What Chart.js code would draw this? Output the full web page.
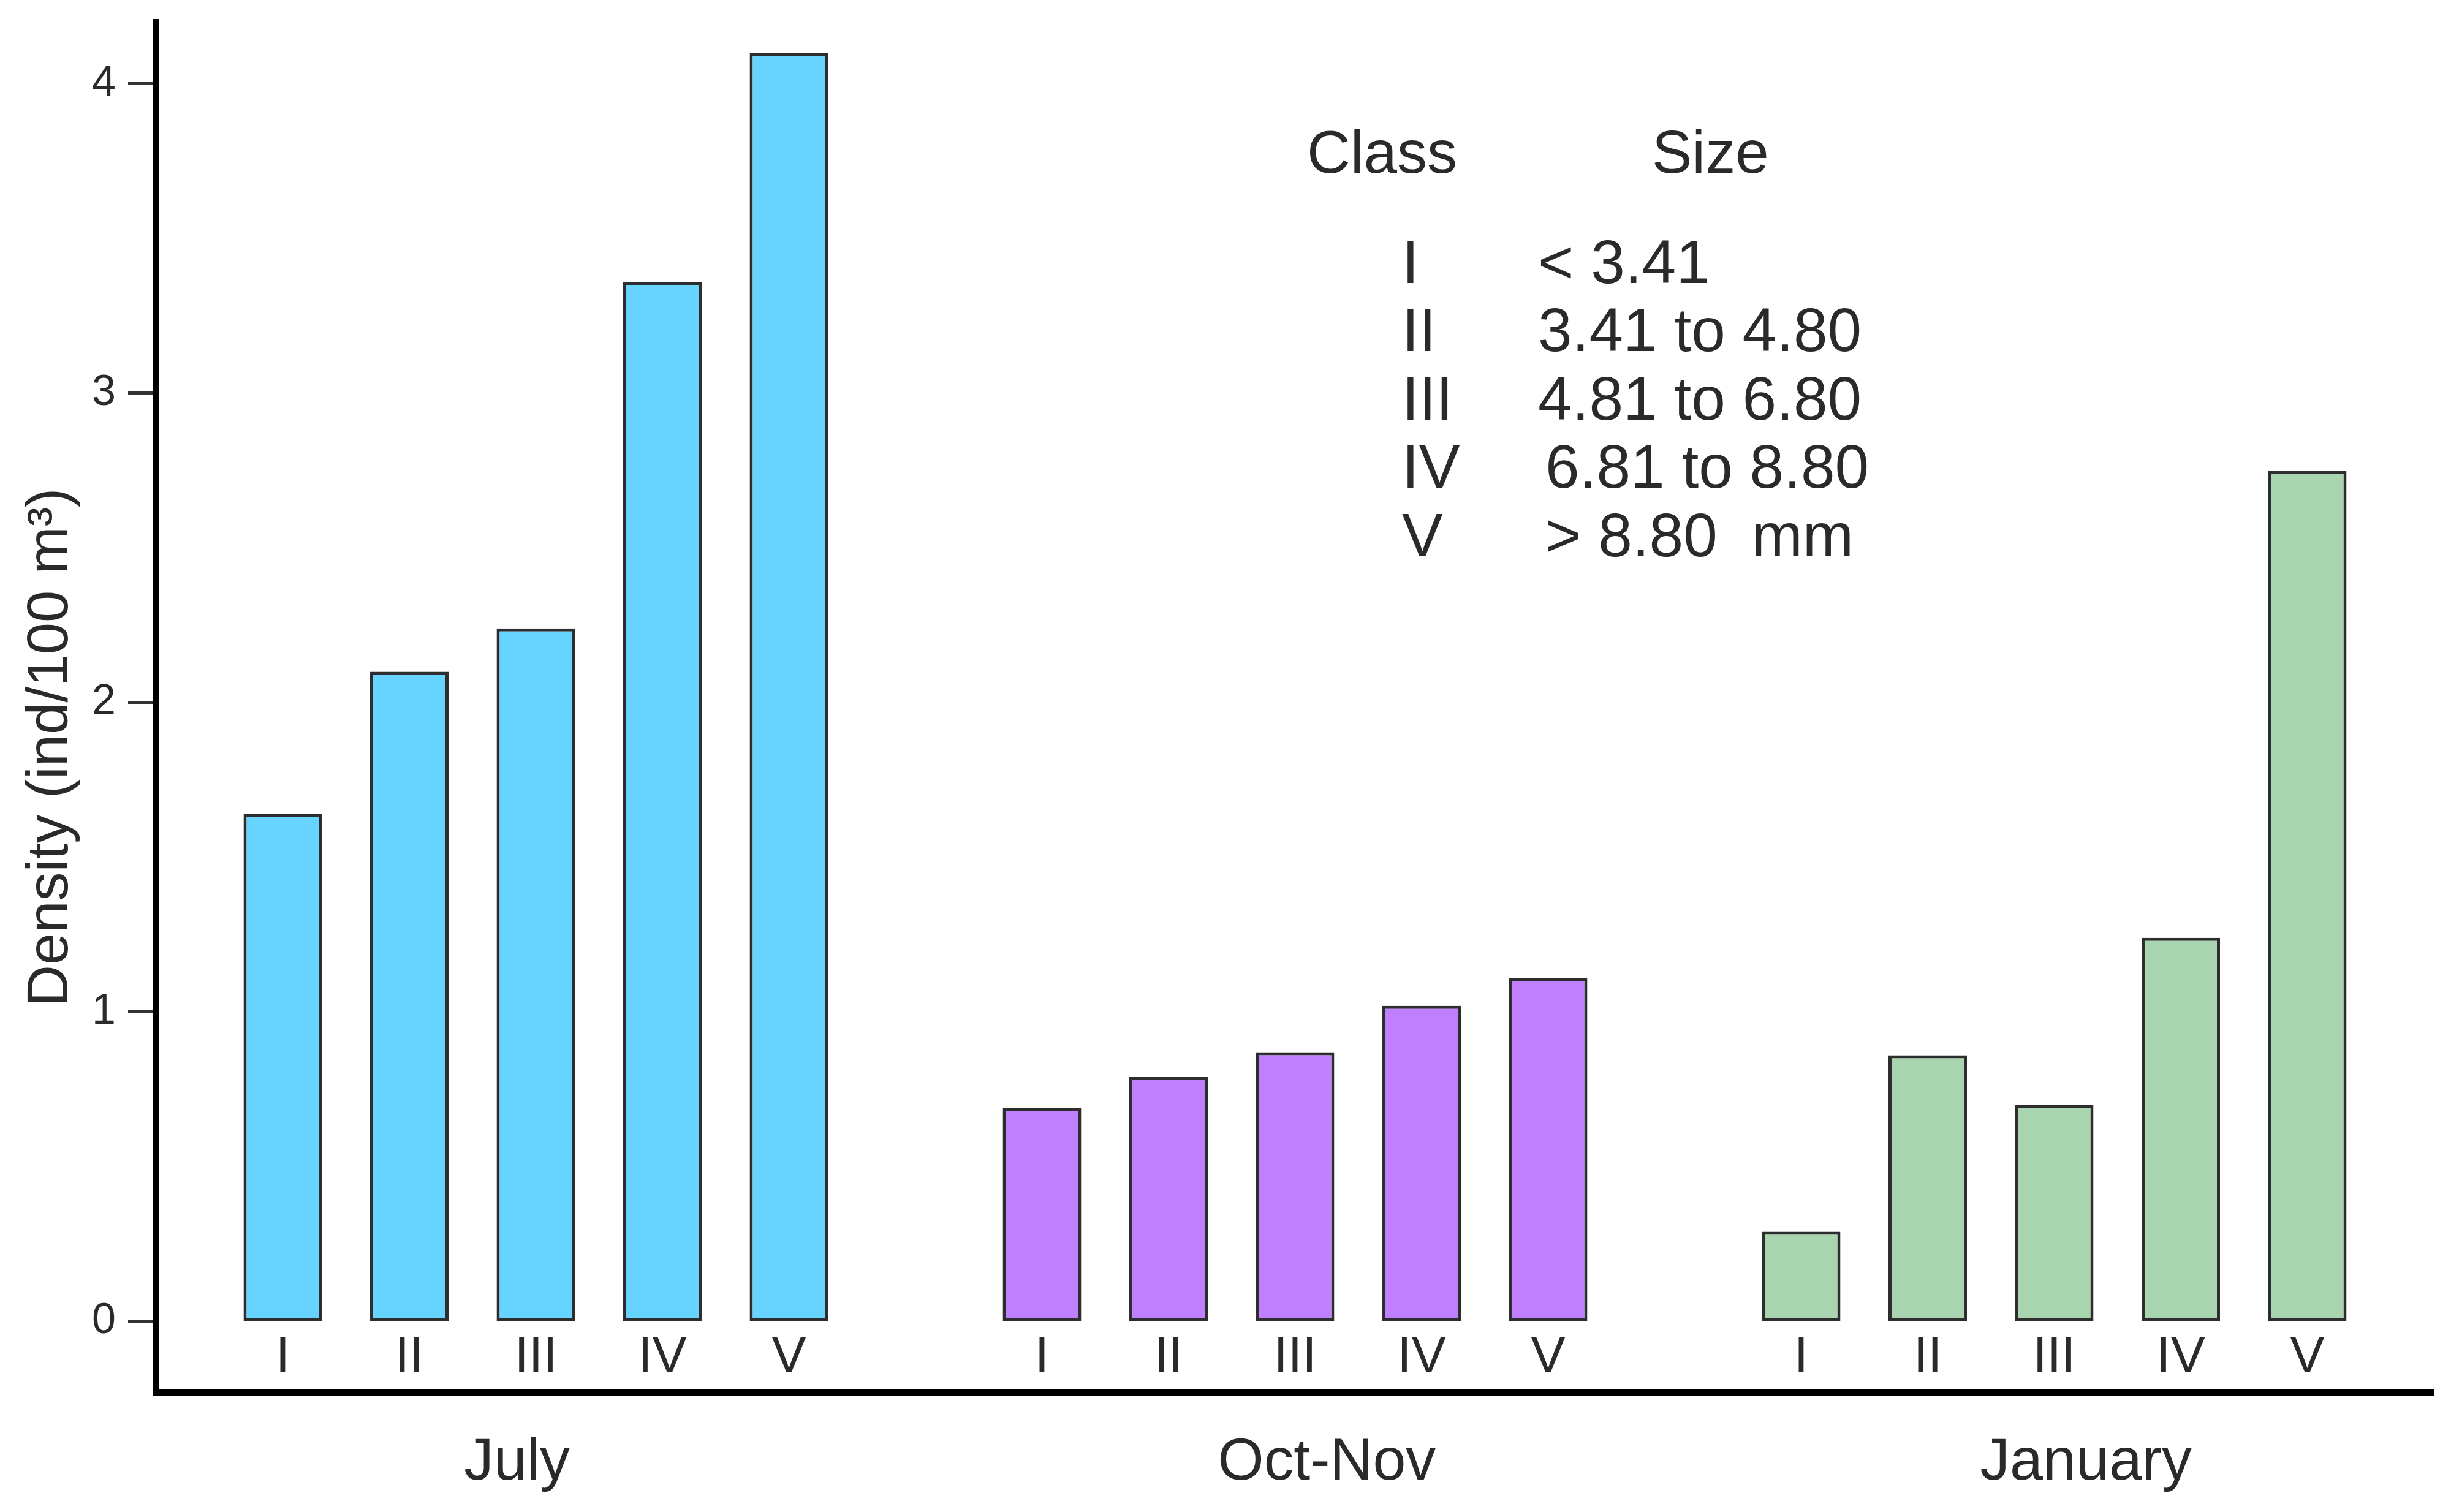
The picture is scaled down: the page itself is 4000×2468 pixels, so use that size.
<!DOCTYPE html>
<html>
<head>
<meta charset="utf-8">
<script src="https://cdn.jsdelivr.net/npm/chart.js@4.4.0/dist/chart.umd.min.js"></script>
<style>
  html, body { margin: 0; padding: 0; background: #fff; }
  #wrap { width: 4000px; height: 2468px; }
</style>
</head>
<body>
<div id="wrap"><canvas id="myChart"></canvas></div>
<script>
let classes = ['I', 'II', 'III', 'IV', 'V'];
let seasons = ['July', 'Oct-Nov', 'January'];
let july = [1.64, 2.10, 2.24, 3.36, 4.10];
let octNov = [0.69, 0.79, 0.87, 1.02, 1.11];
let january = [0.29, 0.86, 0.70, 1.24, 2.75];
let yTicks = [0, 1, 2, 3, 4];
// where each season name sits, in bar slots (slot 0 and 18 are empty margins)
let seasonPos = [2.85, 9.25, 15.25];
let sizes = ['< 3.41', '3.41 to 4.80', '4.81 to 6.80', '6.81 to 8.80', '> 8.80  mm'];

const textColor = '#2a2a2a';
Chart.defaults.font.family = '"Liberation Sans", Arial, sans-serif';
Chart.defaults.color = textColor;

// one empty slot before, between and after the groups
let slotLabels = [''].concat(classes, [''], classes, [''], classes, ['']);

function padSeries(vals, group) {
    let out = slotLabels.map(() => null);
    vals.forEach((v, i) => { out[1 + group * 6 + i] = v; });
    return out;
}

const barStyle = { borderColor: '#2d2d2d', borderWidth: 5, borderSkipped: false,
                   grouped: false, barPercentage: 0.62, categoryPercentage: 1 };

const legendPlugin = {
    id: 'classLegend',
    afterDraw(chart) {
        let ctx = chart.ctx;
        ctx.save();
        ctx.fillStyle = textColor;
        ctx.textBaseline = 'middle';
        ctx.textAlign = 'left';
        ctx.font = '98px "Liberation Sans", Arial, sans-serif';
        ctx.fillText('Class', 2133, 255);
        ctx.fillText('Size', 2696, 255);
        ctx.font = '100px "Liberation Sans", Arial, sans-serif';
        classes.forEach((c, i) => {
            let y = 434 + i * 111.5;
            ctx.fillText(c, 2288, y);
            ctx.fillText(sizes[i], i >= 3 ? 2522 : 2510, y);
        });
        ctx.restore();
    }
};

let ctx = document.getElementById('myChart').getContext('2d');
new Chart(ctx, {
    type: 'bar',
    data: {
        labels: slotLabels,
        datasets: [
            Object.assign({ label: 'July', data: padSeries(july, 0), backgroundColor: '#66D4FF' }, barStyle),
            Object.assign({ label: 'Oct-Nov', data: padSeries(octNov, 1), backgroundColor: '#C07FFF' }, barStyle),
            Object.assign({ label: 'January', data: padSeries(january, 2), backgroundColor: '#A8D4B0' }, barStyle)
        ]
    },
    options: {
        responsive: true,
        maintainAspectRatio: false,
        devicePixelRatio: 1,
        animation: false,
        layout: { padding: { top: 36, right: 28, left: 0, bottom: 0 } },
        plugins: { legend: { display: false }, tooltip: { enabled: false } },
        scales: {
            x: {
                type: 'category',
                position: 'bottom',
                offset: false,
                weight: 0,
                grid: { display: false, drawTicks: false },
                border: { display: true, color: '#000', width: 10 },
                ticks: { mirror: true, padding: 6, autoSkip: false, maxRotation: 0,
                         color: textColor, font: { size: 84 } },
                afterFit: s => { s.height = 0; s.paddingLeft = 0; s.paddingRight = 0; }
            },
            xg: {
                type: 'linear',
                position: 'bottom',
                min: 0,
                max: 18,
                offset: false,
                weight: 1,
                afterBuildTicks: s => { s.ticks = seasonPos.map(v => ({ value: v })); },
                grid: { display: false, drawTicks: false },
                border: { display: false },
                ticks: { callback: (v, i) => seasons[i], padding: 57, autoSkip: false,
                         maxRotation: 0, color: textColor, font: { size: 97 } },
                afterFit: s => { s.height = 195; s.paddingLeft = 0; s.paddingRight = 0; }
            },
            y: {
                min: -0.23,
                max: 4.2,
                afterBuildTicks: s => { s.ticks = yTicks.map(v => ({ value: v })); },
                grid: { drawOnChartArea: false, drawTicks: true, tickLength: 46,
                        tickWidth: 5, tickColor: '#333' },
                border: { display: true, color: '#000', width: 10 },
                ticks: { padding: 20, color: textColor, font: { size: 70 } },
                title: { display: true, text: 'Density (ind/100 m³)     ', color: textColor,
                         font: { size: 94 }, padding: { top: 28, bottom: 0 } },
                afterFit: s => { s.width = 255; s.paddingTop = 0; s.paddingBottom = 0; }
            }
        }
    },
    plugins: [legendPlugin]
});
</script>
</body>
</html>
